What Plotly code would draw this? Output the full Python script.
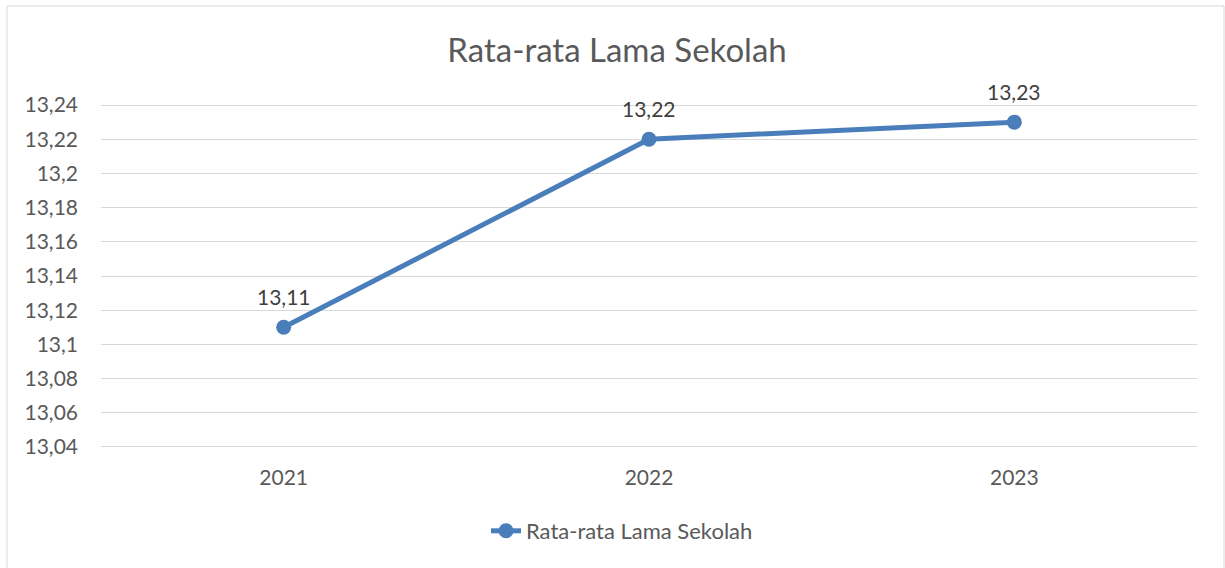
import plotly.graph_objects as go

years = ["2021", "2022", "2023"]
values = [13.11, 13.22, 13.23]
value_labels = ["13,11", "13,22", "13,23"]
y_ticks = [13.04, 13.06, 13.08, 13.10, 13.12, 13.14, 13.16, 13.18, 13.20, 13.22, 13.24]
y_tick_labels = ["13,04", "13,06", "13,08", "13,1", "13,12", "13,14", "13,16", "13,18", "13,2", "13,22", "13,24"]
series_name = "Rata-rata Lama Sekolah"
title_text = "Rata-rata Lama Sekolah"

FONT = "Lato, Calibri, Carlito, sans-serif"
TXT = "#595959"
LINE = "#4a7ebb"

W, H = 1225, 568
L, R, T, B = 101, 28, 103, 119
pw = W - L - R
ph = H - T - B

fig = go.Figure()
fig.add_trace(go.Scatter(
    x=years, y=values, name=series_name, mode="lines+markers",
    line=dict(color=LINE, width=5),
    marker=dict(color=LINE, size=15),
))

for i, (y, t) in enumerate(zip(values, value_labels)):
    fig.add_annotation(x=i, y=y, text=t, showarrow=False, yshift=31,
                       xref="x", yref="y",
                       font=dict(family=FONT, size=21, color="#404040"))

def px_x(p):
    return (p - L) / pw

def px_y(p):
    return (H - B - p) / ph

fig.add_shape(type="rect", xref="paper", yref="paper",
              x0=px_x(7), x1=px_x(1224), y0=px_y(570), y1=px_y(6),
              line=dict(color="#d9d9d9", width=1), fillcolor="rgba(0,0,0,0)", layer="below")

fig.update_layout(
    width=W, height=H,
    margin=dict(l=L, r=R, t=T, b=B, autoexpand=False),
    paper_bgcolor="white", plot_bgcolor="white",
    title=dict(text=title_text, x=px_x(617), xref="paper", xanchor="center",
               y=1 - 50 / H, yanchor="middle",
               font=dict(family=FONT, size=33, color=TXT)),
    font=dict(family=FONT, color=TXT),
    showlegend=True,
    legend=dict(orientation="h", x=px_x(622), xanchor="center",
                y=px_y(531), yanchor="middle",
                font=dict(family=FONT, size=22, color=TXT),
                bgcolor="rgba(0,0,0,0)"),
    xaxis=dict(type="category", range=[-0.5, 2.5], showgrid=False, showline=False,
               zeroline=False, ticks="", tickfont=dict(family=FONT, size=21, color=TXT),
               ticklabelstandoff=14),
    yaxis=dict(range=[13.0388, 13.2412], tickvals=y_ticks, ticktext=y_tick_labels,
               showgrid=True, gridcolor="#d9d9d9", gridwidth=1.3, zeroline=False,
               showline=False, ticks="", tickfont=dict(family=FONT, size=21, color=TXT),
               ticklabelstandoff=22),
)

fig.write_html("out.html", post_script="document.body.style.margin='0';",
               config={"displayModeBar": False})
